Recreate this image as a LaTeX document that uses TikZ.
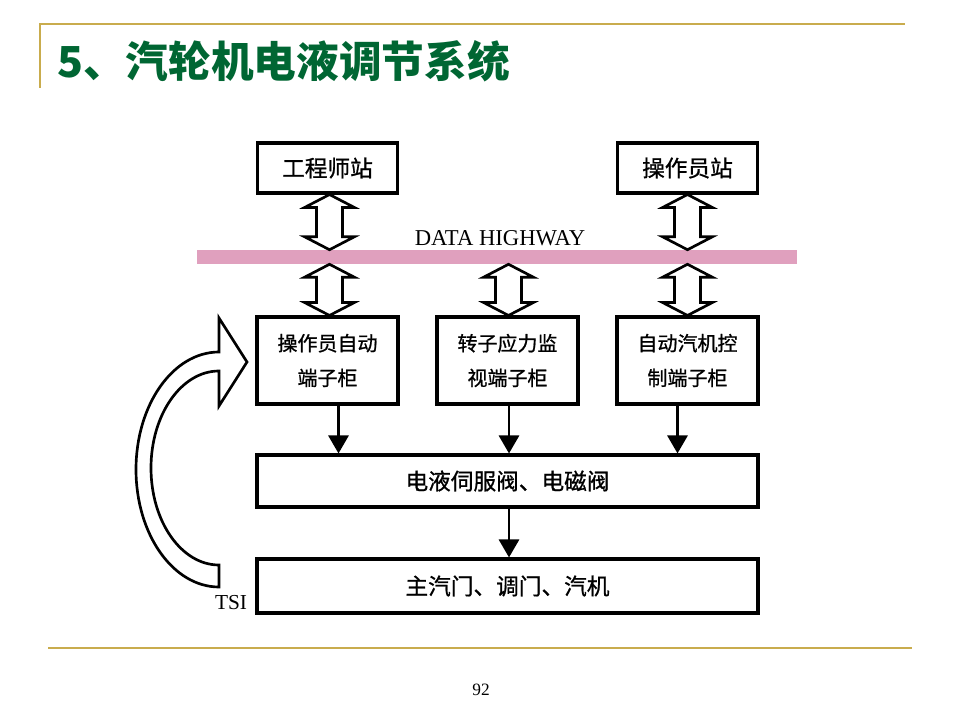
\documentclass[tikz,border=0pt]{standalone}
\usepackage{fontspec}
\setmainfont{Liberation Serif}
\newfontfamily\cjk{Noto Sans CJK SC}
\newfontfamily\cjkm[FakeBold=0.9]{Noto Sans CJK SC}
\usetikzlibrary{arrows.meta,calc}
\definecolor{gold}{RGB}{201,172,77}
\definecolor{titlegreen}{RGB}{0,102,51}
\definecolor{hwpink}{RGB}{224,160,190}
\newcommand\hollowdbl[2]{%
  \draw[hollowarrow] let \p1=(#1), \p2=(#2) in
    (\x1-9.75pt,\y1-9.75pt) -- (\x1-18.75pt,\y1-9.75pt) -- (\x1,\y1) --
    (\x1+18.75pt,\y1-9.75pt) -- (\x1+9.75pt,\y1-9.75pt) --
    (\x1+9.75pt,\y2+9.75pt) -- (\x1+18.75pt,\y2+9.75pt) -- (\x1,\y2) --
    (\x1-18.75pt,\y2+9.75pt) -- (\x1-9.75pt,\y2+9.75pt) -- cycle;}
\begin{document}
\begin{tikzpicture}[x=0.75pt,y=-0.75pt,
  box/.style={draw, line width=2.3pt, fill=white, inner sep=0pt, align=center},
  bigtext/.style={font=\cjkm\fontsize{17}{20}\selectfont},
  midtext/.style={font=\cjkm\fontsize{15}{26}\selectfont},
  hollowarrow/.style={draw, line width=2pt, fill=white, line join=miter},
  flow/.style={line width=2.2pt, -{Triangle[width=15pt,length=13.5pt]}}]
\useasboundingbox (0,0) rectangle (960,720);
\fill[white] (0,0) rectangle (960,720);
% frame lines
\draw[gold, line width=1.5pt] (40,88) -- (40,24) -- (905,24);
\draw[gold, line width=1.5pt] (48,648) -- (912,648);
% title
\node[anchor=west, text=titlegreen, inner sep=0pt,
      font=\cjk\bfseries\fontsize{32}{38}\selectfont] (title) at (57,61) {5、汽轮机电液调节系统};
% data highway band
\node[fill=hwpink, draw=none, minimum width=450pt, minimum height=10.5pt, inner sep=0pt] (band) at (497,257) {};
\node[font=\fontsize{17}{19}\selectfont, inner sep=0pt] (hwlabel) at (500,238) {DATA HIGHWAY};
% boxes
\node[box, bigtext, minimum width=105pt, minimum height=37.5pt] (eng) at (327.5,168) {工程师站};
\node[box, bigtext, minimum width=105pt, minimum height=37.5pt] (ops) at (687.5,168) {操作员站};
\node[box, midtext, minimum width=105.75pt, minimum height=65.25pt] (m1) at (327.5,360.5) {操作员自动\\端子柜};
\node[box, midtext, minimum width=105.75pt, minimum height=65.25pt] (m2) at (507.5,360.5) {转子应力监\\视端子柜};
\node[box, midtext, minimum width=105.75pt, minimum height=65.25pt] (m3) at (687.5,360.5) {自动汽机控\\制端子柜};
\node[box, bigtext, minimum width=375.75pt, minimum height=39pt] (servo) at (507.5,481) {电液伺服阀、电磁阀};
\node[box, bigtext, minimum width=375.75pt, minimum height=40.5pt] (main) at (507.5,586) {主汽门、调门、汽机};
% hollow double arrows
\coordinate (a1t) at ($(eng.south)+(2,0)$);
\coordinate (a2t) at ($(ops.south)+(0,0)$);
\hollowdbl{a1t}{a1t |- band.north}
\hollowdbl{a2t}{a2t |- band.north}
\coordinate (b1) at ($(m1.north)+(2,0)$);
\coordinate (b2) at ($(m2.north)+(1,0)$);
\coordinate (b3) at ($(m3.north)+(0,0)$);
\hollowdbl{b1 |- band.south}{b1}
\hollowdbl{b2 |- band.south}{b2}
\hollowdbl{b3 |- band.south}{b3}
% flow arrows
\coordinate (d1) at ($(m1.south)+(11,0)$);
\coordinate (d2) at ($(m2.south)+(1.5,0)$);
\coordinate (d3) at ($(m3.south)+(-10,0)$);
\draw[flow] (d1) -- (d1 |- servo.north);
\draw[flow] (d2) -- (d2 |- servo.north);
\draw[flow] (d3) -- (d3 |- servo.north);
\coordinate (d4) at ($(servo.south)+(1.5,0)$);
\draw[flow] (d4) -- (d4 |- main.north);
% TSI feedback arrow
\draw[line width=2pt, fill=white, line join=miter]
  (219,352) -- (219,318) -- (247,362) -- (219,406) -- (219,371)
  arc[start angle=90, end angle=270, x radius=51pt, y radius=72.75pt]
  -- (219,587)
  arc[start angle=270, end angle=90, x radius=62.25pt, y radius=88.125pt]
  -- cycle;
\node[font=\fontsize{16}{18}\selectfont, inner sep=0pt] (tsi) at (231,603) {TSI};
\node[font=\fontsize{13}{15}\selectfont, inner sep=0pt] (page) at (481,690) {92};
\end{tikzpicture}
\end{document}
